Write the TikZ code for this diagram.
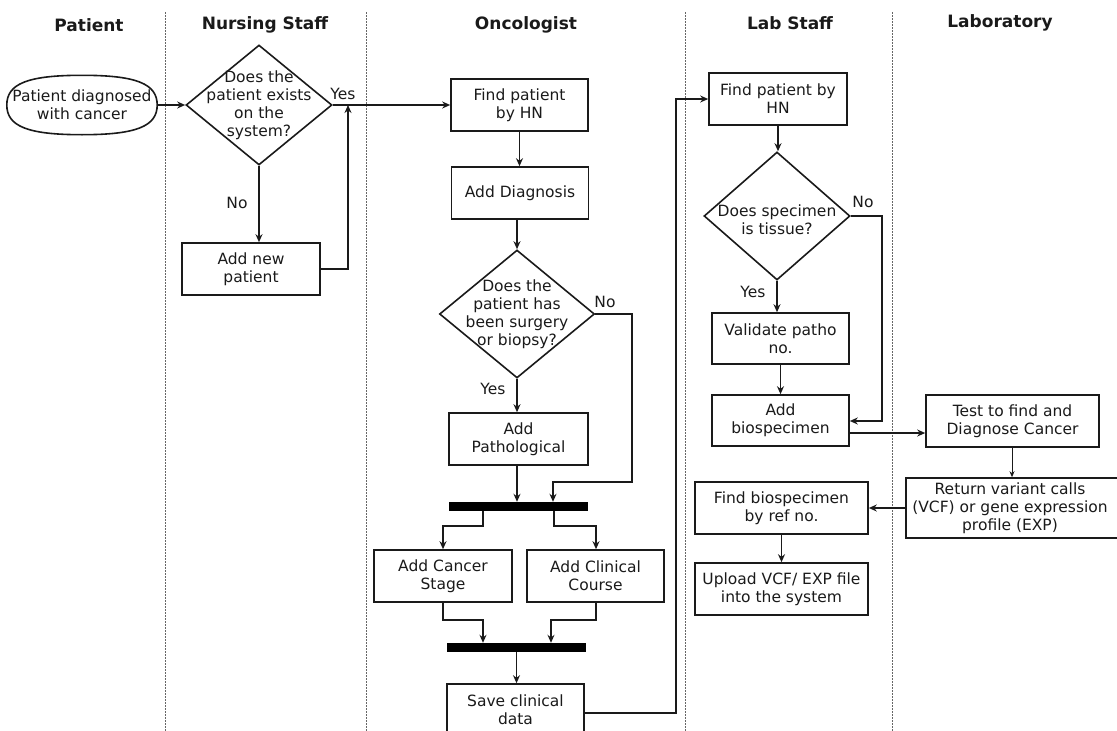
\documentclass[tikz,border=0pt]{standalone}
\usepackage{fontspec}
\usetikzlibrary{shapes.geometric,arrows.meta,calc}
\newfontfamily\bodyfont{DejaVu Sans}
\definecolor{ink}{HTML}{1A1A1A}
\tikzset{
  x=1pt, y=-1pt,
  every node/.style={text=ink},
  txt/.style={font={\bodyfont\fontsize{15.5}{18}\selectfont}, align=center, inner sep=0pt},
  head/.style={font={\bodyfont\bfseries\fontsize{17}{20}\selectfont}, inner sep=0pt},
  box/.style={txt, draw=ink, line width=1.6pt, fill=white, minimum width=137pt, minimum height=52pt},
  wide/.style={box, minimum width=173pt},
  term/.style={txt, minimum width=150pt, minimum height=59pt},
  outline/.style={draw=ink, line width=1.6pt},
  decision/.style={diamond, draw=ink, line width=1.6pt, fill=white, inner sep=0pt},
  sync/.style={fill=black, draw=none, minimum width=139pt, minimum height=9pt, inner sep=0pt},
  lbl/.style={txt},
  arr/.style={draw=ink, line width=1.6pt, -{Stealth[length=8pt,width=7pt]}},
  thinarr/.style={draw=ink, line width=1pt, -{Stealth[length=6pt,width=5pt]}},
  lane/.style={draw=gray!80!black, line width=0.8pt, dash pattern=on 1.5pt off 1.5pt},
}
\begin{document}
\begin{tikzpicture}
\useasboundingbox (0,0) rectangle (1117,731);

% swimlane separators
\foreach \lx in {165,366,685,892} \draw[lane] (\lx,12) -- (\lx,731);

% lane titles
\node[head] (hPatient) at (89,25) {Patient};
\node[head] (hNurse) at (265,25) {Nursing Staff};
\node[head] (hOnco) at (526,25) {Oncologist};
\node[head] (hLabStaff) at (790,23) {Lab Staff};
\node[head] (hLab) at (1000,23) {Laboratory};

% Patient: start terminator with a rounded oval outline
\node[term] (start) at (82,105) {Patient diagnosed\\with cancer};
\draw[outline]
  (start.west) .. controls ($(start.west)!0.72!(start.north west)$) and ($(start.north)!0.72!(start.north west)$) .. (start.north)
  .. controls ($(start.north)!0.72!(start.north east)$) and ($(start.east)!0.72!(start.north east)$) .. (start.east)
  .. controls ($(start.east)!0.72!(start.south east)$) and ($(start.south)!0.72!(start.south east)$) .. (start.south)
  .. controls ($(start.south)!0.72!(start.south west)$) and ($(start.west)!0.72!(start.south west)$) .. (start.west) -- cycle;

% Nursing staff
\node[decision, minimum width=146pt, minimum height=120pt,
      label={[txt]center:Does the\\patient exists\\on the\\system?}] (d1) at (259,105) {};
\node[box, minimum width=138pt] (newp) at (251,269) {Add new\\patient};
\coordinate (j1) at (348,105);

% Oncologist
\node[box] (find1) at (519.5,105) {Find patient\\by HN};
\node[box] (diag) at (520,193) {Add Diagnosis};
\node[decision, minimum width=155pt, minimum height=128pt,
      label={[txt]center:Does the\\patient has\\been surgery\\or biopsy?}] (d2) at (517,314) {};
\node[box, minimum width=139pt] (path) at (518.5,439) {Add\\Pathological};
\node[sync] (bar1) at (518.5,506.5) {};
\node[box, minimum width=138pt] (stage) at (443,576) {Add Cancer\\Stage};
\node[box] (course) at (595.5,576) {Add Clinical\\Course};
\node[sync] (bar2) at (516.5,647.5) {};
\node[box] (save) at (515.5,710) {Save clinical\\data};

% Lab staff
\node[box, minimum width=138pt] (find2) at (778,99) {Find patient by\\HN};
\node[decision, minimum width=146pt, minimum height=128pt,
      label={[txt, yshift=-4pt]center:Does specimen\\is tissue?}] (d3) at (777,216) {};
\node[box, minimum height=51pt] (valid) at (780.5,338.5) {Validate patho\\no.};
\node[box, minimum height=51pt] (bio) at (780.5,420.5) {Add\\biospecimen};
\node[wide] (findb) at (781.5,508) {Find biospecimen\\by ref no.};
\node[wide] (upload) at (781.5,589) {Upload VCF/ EXP file\\into the system};

% Laboratory
\node[wide] (test) at (1012.5,421) {Test to find and\\Diagnose Cancer};
\node[box, minimum width=219pt, minimum height=60pt,
      label={[txt, xshift=-5.5pt]center:Return variant calls\\(VCF) or gene expression\\profile (EXP)}] (ret) at (1015.5,508) {};

% branch labels
\node[lbl] (yes1) at (343,94) {Yes};
\node[lbl] (no1) at (237,203) {No};
\node[lbl] (no2) at (605,302) {No};
\node[lbl] (yes2) at (493,389) {Yes};
\node[lbl] (no3) at (863,202) {No};
\node[lbl] (yes3) at (753,292) {Yes};

% bend points
\coordinate (n2a) at (632,314);
\coordinate (n2b) at (632,482);
\coordinate (n2c) at (553,482);
\coordinate (f1a) at (483,526);
\coordinate (f1b) at (443,526);
\coordinate (f2a) at (554,526);
\coordinate (f2b) at (596,526);
\coordinate (m1a) at (443,620);
\coordinate (m1b) at (483,620);
\coordinate (m2a) at (596,620);
\coordinate (m2b) at (551,620);
\coordinate (s1) at (676,713);
\coordinate (s2) at (676,99);
\coordinate (n3a) at (882,216);
\coordinate (n3b) at (882,421);
\coordinate (bo) at (849,433);
\coordinate (tr) at (1012,447);

% connectors: nursing
\draw[arr] (start.east) -- (d1.west);
\draw[arr] (d1.south) -- (d1.south |- newp.north);
\draw[arr] (newp.east) -| (j1);
\draw[arr] (d1.east) -- (find1.west);

% connectors: oncologist
\draw[arr] (find1.south) -- (find1.south |- diag.north);
\draw[arr] (diag.south -| d2.north) -- (d2.north);
\draw[arr] (d2.south) -- (d2.south |- path.north);
\draw[arr] (d2.east) -- (n2a) -- (n2b) -- (n2c) -- (n2c |- bar1.north);
\draw[arr] (path.south -| d2.south) -- (d2.south |- bar1.north);
\draw[arr] (f1a |- bar1.south) -- (f1a) -- (f1b) -- (f1b |- stage.north);
\draw[arr] (f2a |- bar1.south) -- (f2a) -- (f2b) -- (f2b |- course.north);
\draw[arr] (m1a |- stage.south) -- (m1a) -- (m1b) -- (m1b |- bar2.north);
\draw[arr] (m2a |- course.south) -- (m2a) -- (m2b) -- (m2b |- bar2.north);
\draw[arr] (bar2.south) -- (bar2.south |- save.north);
\draw[arr] (s1 -| save.east) -- (s1) -- (s2) -- (find2.west);

% connectors: lab staff and laboratory
\draw[arr] (find2.south) -- (find2.south |- d3.north);
\draw[arr] (d3.east) -- (n3a) -- (n3b) -- (bio.east |- n3b);
\draw[arr] (d3.south) -- (d3.south |- valid.north);
\draw[arr] (valid.south) -- (bio.north);
\draw[arr] (bo) -- (bo -| test.west);
\draw[thinarr] (tr) -- (tr |- ret.north);
\draw[arr] (ret.west) -- (ret.west -| findb.east);
\draw[arr] (findb.south) -- (findb.south |- upload.north);
\end{tikzpicture}
\end{document}
